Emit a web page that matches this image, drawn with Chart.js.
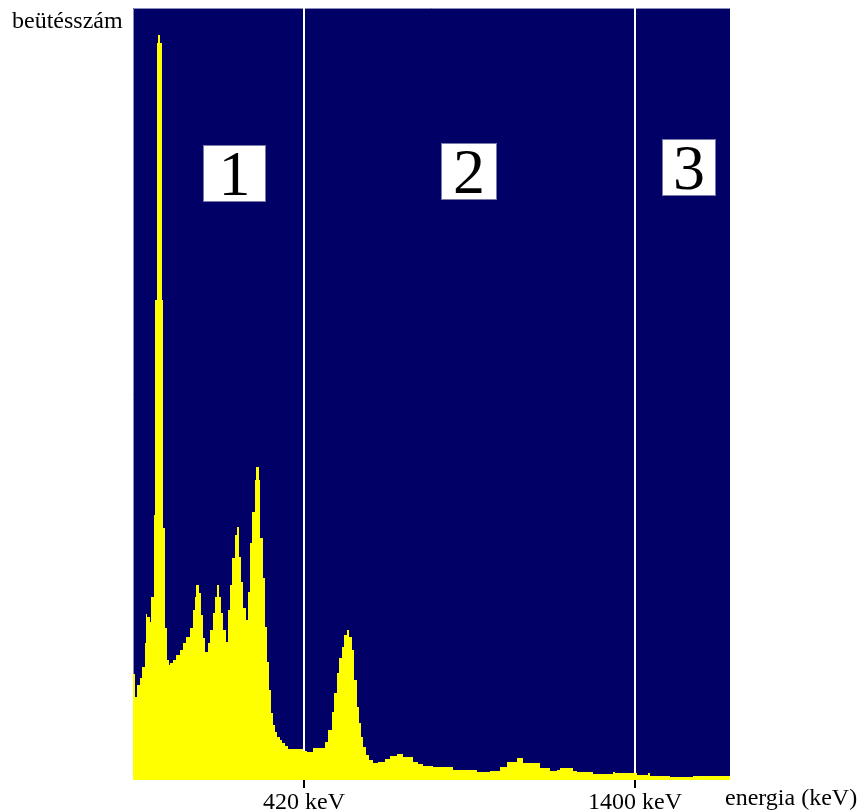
<!DOCTYPE html>
<html>
<head>
<meta charset="utf-8">
<script src="https://cdn.jsdelivr.net/npm/chart.js@4.4.1/dist/chart.umd.min.js"></script>
<style>
  html, body { margin: 0; padding: 0; background: #fff; }
  canvas { display: block; }
</style>
</head>
<body>
<canvas id="spectrumChart" width="862" height="811"></canvas>
<script>
// Channel where each histogram step starts (channel 0 = left edge of plot)
const channels = [
  0, 2, 4, 7, 9, 12, 13, 14, 17, 18, 21, 22, 24, 25, 27, 29, 30, 32, 34, 36,
  37, 40, 43, 47, 50, 53, 57, 60, 62, 63, 66, 68, 70, 72, 75, 77, 80, 82, 84, 86,
  88, 90, 93, 95, 97, 99, 102, 104, 106, 108, 110, 113, 115, 117, 119, 122, 123, 126, 127, 130,
  132, 134, 136, 138, 140, 142, 144, 147, 149, 152, 155, 160, 170, 174, 180, 192, 195, 199, 201, 204,
  206, 209, 211, 214, 216, 219, 221, 224, 226, 228, 230, 233, 236, 240, 245, 252, 257, 264, 270, 280,
  285, 290, 300, 320, 344, 357, 367, 374, 384, 390, 407, 417, 424, 427, 440, 444, 460, 480, 482, 504,
  515, 517, 537, 560, 562, 597
];

// Counts (arbitrary units) for each step
const counts = [
  93, 106, 83, 95, 102, 113, 137, 166, 163, 158, 183, 265, 480, 737, 745, 737, 480, 252, 152, 120,
  115, 117, 120, 125, 130, 137, 143, 152, 170, 183, 195, 187, 165, 142, 128, 137, 150, 167, 183, 195,
  183, 167, 150, 138, 170, 195, 222, 245, 253, 223, 198, 172, 160, 188, 237, 268, 300, 313, 300, 242,
  202, 153, 118, 90, 67, 55, 48, 43, 40, 37, 34, 31, 31, 29, 28, 32, 38, 50, 68, 87,
  107, 122, 133, 145, 150, 143, 130, 100, 73, 57, 43, 33, 25, 20, 17, 18, 21, 24, 26, 23,
  18, 16, 14, 13, 10, 8, 9, 13, 18, 22, 17, 12, 9, 10, 12, 9, 8, 6, 8, 7,
  5, 7, 4, 3, 4, 4
];

// Energy marks on the x axis
const tickChannels = [171, 502];
const tickLabels = ['420 keV', '1400 keV'];

// Region labels inside the plot
const regionLabels = ['1', '2', '3'];
const regionCenters = [101, 336, 556];

const NAVY = '#000066';
const YELLOW = '#ffff00';
const SERIF = '"Liberation Serif", "Times New Roman", serif';

const points = channels.map((c, i) => ({ x: c, y: counts[i] }));

// Dark plot background
const plotBackground = {
  id: 'plotBackground',
  beforeDraw(chart) {
    const { ctx, chartArea: a } = chart;
    ctx.save();
    ctx.fillStyle = NAVY;
    ctx.fillRect(a.left, a.top, a.right - a.left, a.bottom - a.top);
    ctx.strokeStyle = '#8c8cb8';
    ctx.lineWidth = 1;
    ctx.beginPath();
    ctx.moveTo(a.left + 0.5, a.bottom);
    ctx.lineTo(a.left + 0.5, a.top + 0.5);
    ctx.lineTo(a.right, a.top + 0.5);
    ctx.stroke();
    ctx.restore();
  }
};

// Region boxes and axis captions
const annotations = {
  id: 'annotations',
  afterDraw(chart) {
    const { ctx } = chart;
    const xScale = chart.scales.x;
    const boxTops = [145, 143, 139];
    const boxW = [63, 56, 54];
    const boxH = 57;

    ctx.save();
    regionLabels.forEach((label, i) => {
      const cx = xScale.getPixelForValue(regionCenters[i]);
      const left = Math.round(cx - boxW[i] / 2);
      ctx.fillStyle = '#ffffff';
      ctx.fillRect(left, boxTops[i], boxW[i], boxH);
      ctx.strokeStyle = '#7a7aa8';
      ctx.lineWidth = 1;
      ctx.strokeRect(left + 0.5, boxTops[i] + 0.5, boxW[i] - 1, boxH - 1);
      ctx.fillStyle = '#000000';
      ctx.font = '64px ' + SERIF;
      ctx.textAlign = 'center';
      ctx.textBaseline = 'alphabetic';
      ctx.fillText(label, left + boxW[i] / 2, boxTops[i] + 50);
    });

    ctx.font = '24px ' + SERIF;
    ctx.fillStyle = '#000000';
    ctx.textAlign = 'left';
    ctx.textBaseline = 'alphabetic';
    ctx.fillText('beütésszám', 12, 28);
    ctx.fillText('energia (keV)', 725, 805);
    ctx.restore();
  }
};

new Chart(document.getElementById('spectrumChart'), {
  type: 'line',
  data: {
    datasets: [{
      data: points,
      stepped: 'after',
      fill: 'origin',
      backgroundColor: YELLOW,
      borderColor: YELLOW,
      borderWidth: 0,
      pointRadius: 0
    }]
  },
  options: {
    responsive: false,
    animation: false,
    layout: {
      padding: { left: 133, right: 132, top: 8, bottom: 0 }
    },
    scales: {
      x: {
        type: 'linear',
        min: 0,
        max: 597,
        z: 1,
        afterBuildTicks(scale) {
          scale.ticks = tickChannels.map(v => ({ value: v }));
        },
        afterFit(scale) {
          scale.height = 31;
        },
        border: { display: false },
        grid: {
          color: '#ffffff',
          tickColor: '#000000',
          lineWidth: 2,
          tickLength: 8,
          drawOnChartArea: true
        },
        ticks: {
          autoSkip: false,
          maxRotation: 0,
          padding: 0,
          color: '#000000',
          font: { family: SERIF, size: 24 },
          callback(value) {
            const i = tickChannels.indexOf(value);
            return i >= 0 ? tickLabels[i] : '';
          }
        }
      },
      y: {
        display: false,
        min: 0,
        max: 772
      }
    },
    plugins: {
      legend: { display: false },
      tooltip: { enabled: false }
    }
  },
  plugins: [plotBackground, annotations]
});
</script>
</body>
</html>
